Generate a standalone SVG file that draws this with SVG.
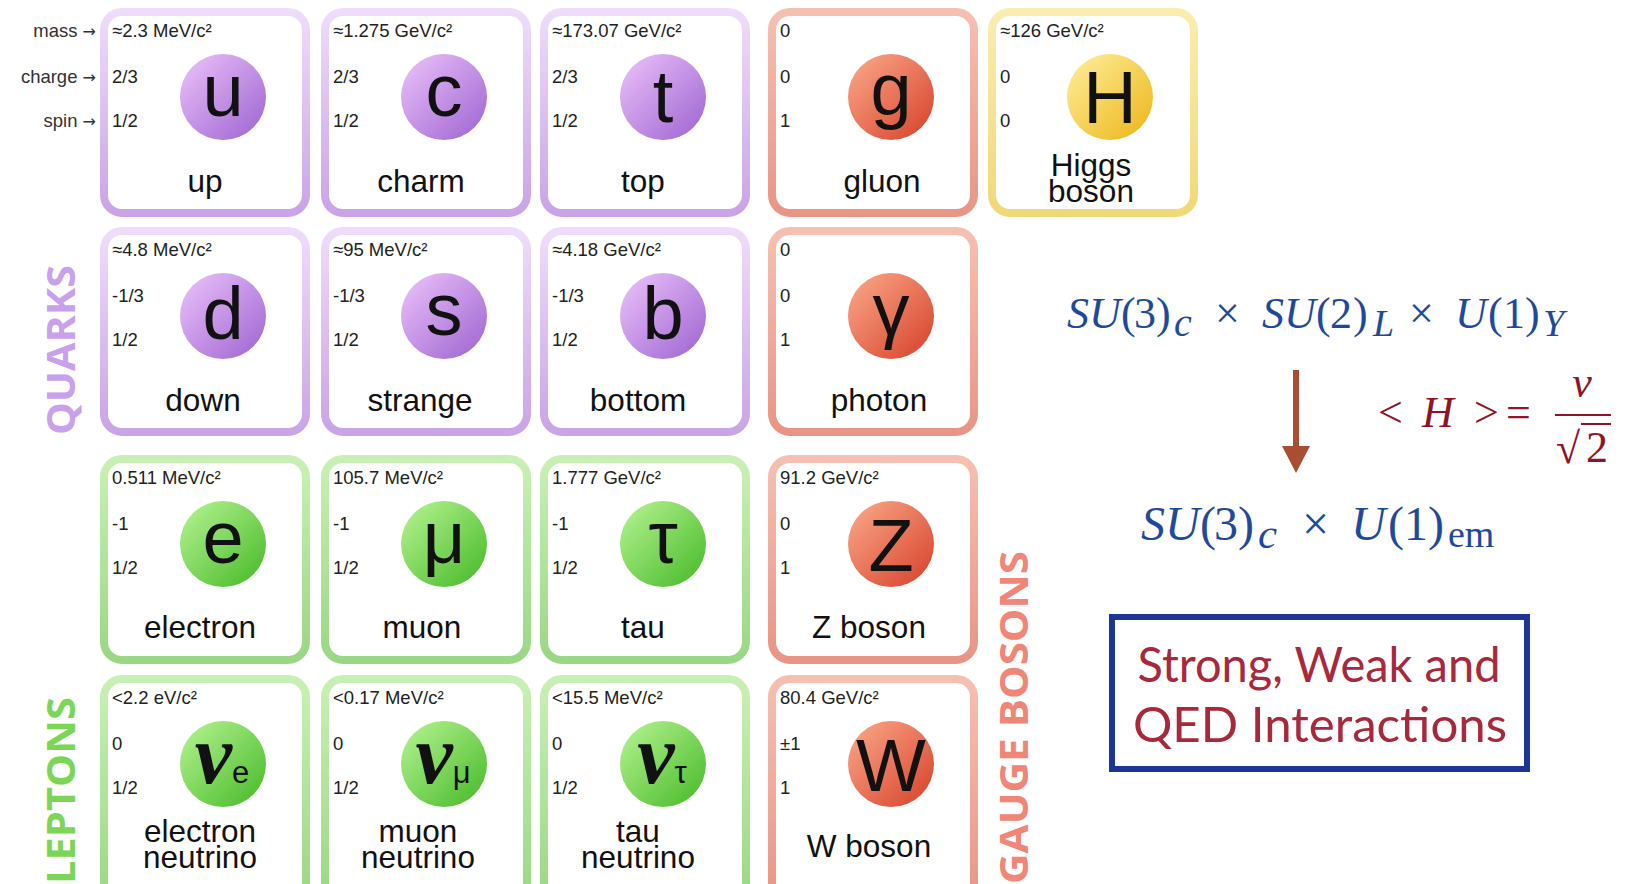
<svg xmlns="http://www.w3.org/2000/svg" width="1630" height="884" viewBox="0 0 1630 884">
<defs>
  <linearGradient id="cq" x1="0" y1="0" x2="1" y2="1"><stop offset="0" stop-color="#edc4fb"/><stop offset="1" stop-color="#9c62d0"/></linearGradient>
  <linearGradient id="cl" x1="0" y1="0" x2="1" y2="1"><stop offset="0" stop-color="#b8f594"/><stop offset="1" stop-color="#45b826"/></linearGradient>
  <linearGradient id="cg" x1="0" y1="0" x2="1" y2="1"><stop offset="0" stop-color="#fbab8c"/><stop offset="1" stop-color="#d63f28"/></linearGradient>
  <linearGradient id="ch" x1="0" y1="0" x2="1" y2="1"><stop offset="0" stop-color="#fff0a0"/><stop offset="1" stop-color="#ecb414"/></linearGradient>
  <linearGradient id="bq" x1="0" y1="0" x2="0" y2="1"><stop offset="0" stop-color="#efdcfa"/><stop offset="1" stop-color="#c9a4e6"/></linearGradient>
  <linearGradient id="bl" x1="0" y1="0" x2="0" y2="1"><stop offset="0" stop-color="#c9f0b4"/><stop offset="1" stop-color="#9ad784"/></linearGradient>
  <linearGradient id="bg" x1="0" y1="0" x2="0" y2="1"><stop offset="0" stop-color="#f5c0b2"/><stop offset="1" stop-color="#e99585"/></linearGradient>
  <linearGradient id="bh" x1="0" y1="0" x2="0" y2="1"><stop offset="0" stop-color="#f9edb0"/><stop offset="1" stop-color="#f1d878"/></linearGradient>
  <marker id="ah" viewBox="0 0 27 28" refX="0" refY="14" markerUnits="userSpaceOnUse" markerWidth="27" markerHeight="28" orient="auto">
    <path d="M0,0 L27,14 L0,28 Z" fill="#a84e32"/>
  </marker>
</defs>
<style>
  .bq{fill:#fff;stroke:url(#bq);stroke-width:8}
  .bl{fill:#fff;stroke:url(#bl);stroke-width:8}
  .bg{fill:#fff;stroke:url(#bg);stroke-width:8}
  .bh{fill:#fff;stroke:url(#bh);stroke-width:8}
  .val{font-family:"Liberation Sans",Arial,sans-serif;font-size:18.5px;fill:#222}
  .leg{font-family:"Liberation Sans",Arial,sans-serif;font-size:18.5px;fill:#333;text-anchor:end}
  .arr{font-family:"DejaVu Sans",sans-serif;font-size:16px}
  .name{font-family:"Liberation Sans",Arial,sans-serif;font-size:31.5px;fill:#111;text-anchor:middle}
  .sym{font-family:"Liberation Sans",Arial,sans-serif;font-size:74px;fill:#111;text-anchor:middle}
  .nu{font-family:"Liberation Serif","Times New Roman",serif;font-style:italic;font-weight:700;font-size:84px;fill:#111;text-anchor:middle}
  .nus{font-family:"Liberation Sans",Arial,sans-serif;font-style:normal;font-weight:400;font-size:31px}
  .cat{font-family:"Open Sans","Liberation Sans",sans-serif;font-weight:700;font-size:39px}
  .fb{font-family:"Liberation Serif","Times New Roman",serif;fill:#1f4a9c}
  .fr{font-family:"Liberation Serif","Times New Roman",serif;fill:#8e1528}
  .it{font-style:italic}
  .box2{font-family:"Lato","Open Sans",sans-serif;font-size:48px;fill:#a8283c;text-anchor:middle}
</style>

<g id="legend">
  <text class="leg" x="96" y="37">mass <tspan class="arr">→</tspan></text>
  <text class="leg" x="96" y="83">charge <tspan class="arr">→</tspan></text>
  <text class="leg" x="96" y="127">spin <tspan class="arr">→</tspan></text>
</g>

<!-- Row 1 -->
<g id="up"><rect class="bq" x="104" y="12" width="202" height="201" rx="18"/><circle cx="223" cy="97" r="43" fill="url(#cq)"/>
  <text class="val" x="112" y="37">≈2.3 MeV/c²</text><text class="val" x="112" y="83">2/3</text><text class="val" x="112" y="127">1/2</text>
  <text class="sym" x="223" y="116">u</text><text class="name" x="205" y="192">up</text></g>
<g id="charm"><rect class="bq" x="325" y="12" width="202" height="201" rx="18"/><circle cx="444" cy="97" r="43" fill="url(#cq)"/>
  <text class="val" x="333" y="37">≈1.275 GeV/c²</text><text class="val" x="333" y="83">2/3</text><text class="val" x="333" y="127">1/2</text>
  <text class="sym" x="444" y="116">c</text><text class="name" x="421" y="192">charm</text></g>
<g id="top"><rect class="bq" x="544" y="12" width="202" height="201" rx="18"/><circle cx="663" cy="97" r="43" fill="url(#cq)"/>
  <text class="val" x="552" y="37">≈173.07 GeV/c²</text><text class="val" x="552" y="83">2/3</text><text class="val" x="552" y="127">1/2</text>
  <text class="sym" x="663" y="122">t</text><text class="name" x="643" y="192">top</text></g>
<g id="gluon"><rect class="bg" x="772" y="12" width="202" height="201" rx="18"/><circle cx="891" cy="97" r="43" fill="url(#cg)"/>
  <text class="val" x="780" y="37">0</text><text class="val" x="780" y="83">0</text><text class="val" x="780" y="127">1</text>
  <text class="sym" x="891" y="115">g</text><text class="name" x="882" y="192">gluon</text></g>
<g id="higgs"><rect class="bh" x="992" y="12" width="202" height="201" rx="18"/><circle cx="1110" cy="97" r="43" fill="url(#ch)"/>
  <text class="val" x="1000" y="37">≈126 GeV/c²</text><text class="val" x="1000" y="83">0</text><text class="val" x="1000" y="127">0</text>
  <text class="sym" x="1110" y="123">H</text><text class="name" x="1091" y="176">Higgs</text><text class="name" x="1091" y="202">boson</text></g>

<!-- Row 2 -->
<g id="down"><rect class="bq" x="104" y="231" width="202" height="201" rx="18"/><circle cx="223" cy="316" r="43" fill="url(#cq)"/>
  <text class="val" x="112" y="256">≈4.8 MeV/c²</text><text class="val" x="112" y="302">-1/3</text><text class="val" x="112" y="346">1/2</text>
  <text class="sym" x="223" y="339">d</text><text class="name" x="203" y="411">down</text></g>
<g id="strange"><rect class="bq" x="325" y="231" width="202" height="201" rx="18"/><circle cx="444" cy="316" r="43" fill="url(#cq)"/>
  <text class="val" x="333" y="256">≈95 MeV/c²</text><text class="val" x="333" y="302">-1/3</text><text class="val" x="333" y="346">1/2</text>
  <text class="sym" x="444" y="335">s</text><text class="name" x="420" y="411">strange</text></g>
<g id="bottom"><rect class="bq" x="544" y="231" width="202" height="201" rx="18"/><circle cx="663" cy="316" r="43" fill="url(#cq)"/>
  <text class="val" x="552" y="256">≈4.18 GeV/c²</text><text class="val" x="552" y="302">-1/3</text><text class="val" x="552" y="346">1/2</text>
  <text class="sym" x="663" y="339">b</text><text class="name" x="638" y="411">bottom</text></g>
<g id="photon"><rect class="bg" x="772" y="231" width="202" height="201" rx="18"/><circle cx="891" cy="316" r="43" fill="url(#cg)"/>
  <text class="val" x="780" y="256">0</text><text class="val" x="780" y="302">0</text><text class="val" x="780" y="346">1</text>
  <text class="sym" x="891" y="335">γ</text><text class="name" x="879" y="411">photon</text></g>

<!-- Row 3 -->
<g id="electron"><rect class="bl" x="104" y="459" width="202" height="201" rx="18"/><circle cx="223" cy="544" r="43" fill="url(#cl)"/>
  <text class="val" x="112" y="484">0.511 MeV/c²</text><text class="val" x="112" y="530">-1</text><text class="val" x="112" y="574">1/2</text>
  <text class="sym" x="223" y="563">e</text><text class="name" x="200" y="638">electron</text></g>
<g id="muon"><rect class="bl" x="325" y="459" width="202" height="201" rx="18"/><circle cx="444" cy="544" r="43" fill="url(#cl)"/>
  <text class="val" x="333" y="484">105.7 MeV/c²</text><text class="val" x="333" y="530">-1</text><text class="val" x="333" y="574">1/2</text>
  <text class="sym" x="444" y="563">μ</text><text class="name" x="422" y="638">muon</text></g>
<g id="tau"><rect class="bl" x="544" y="459" width="202" height="201" rx="18"/><circle cx="663" cy="544" r="43" fill="url(#cl)"/>
  <text class="val" x="552" y="484">1.777 GeV/c²</text><text class="val" x="552" y="530">-1</text><text class="val" x="552" y="574">1/2</text>
  <text class="sym" x="663" y="563">τ</text><text class="name" x="643" y="638">tau</text></g>
<g id="zboson"><rect class="bg" x="772" y="459" width="202" height="201" rx="18"/><circle cx="891" cy="544" r="43" fill="url(#cg)"/>
  <text class="val" x="780" y="484">91.2 GeV/c²</text><text class="val" x="780" y="530">0</text><text class="val" x="780" y="574">1</text>
  <text class="sym" x="891" y="571">Z</text><text class="name" x="869" y="638">Z boson</text></g>

<!-- Row 4 -->
<g id="electron-neutrino"><rect class="bl" x="104" y="679" width="202" height="222" rx="18"/><circle cx="223" cy="764" r="43" fill="url(#cl)"/>
  <text class="val" x="112" y="704">&lt;2.2 eV/c²</text><text class="val" x="112" y="750">0</text><text class="val" x="112" y="794">1/2</text>
  <text class="nu" x="222" y="783">ν<tspan class="nus">e</tspan></text><text class="name" x="200" y="842">electron</text><text class="name" x="200" y="868">neutrino</text></g>
<g id="muon-neutrino"><rect class="bl" x="325" y="679" width="202" height="222" rx="18"/><circle cx="444" cy="764" r="43" fill="url(#cl)"/>
  <text class="val" x="333" y="704">&lt;0.17 MeV/c²</text><text class="val" x="333" y="750">0</text><text class="val" x="333" y="794">1/2</text>
  <text class="nu" x="443" y="783">ν<tspan class="nus">μ</tspan></text><text class="name" x="418" y="842">muon</text><text class="name" x="418" y="868">neutrino</text></g>
<g id="tau-neutrino"><rect class="bl" x="544" y="679" width="202" height="222" rx="18"/><circle cx="663" cy="764" r="43" fill="url(#cl)"/>
  <text class="val" x="552" y="704">&lt;15.5 MeV/c²</text><text class="val" x="552" y="750">0</text><text class="val" x="552" y="794">1/2</text>
  <text class="nu" x="662" y="783">ν<tspan class="nus">τ</tspan></text><text class="name" x="638" y="842">tau</text><text class="name" x="638" y="868">neutrino</text></g>
<g id="wboson"><rect class="bg" x="772" y="679" width="202" height="222" rx="18"/><circle cx="891" cy="764" r="43" fill="url(#cg)"/>
  <text class="val" x="780" y="704">80.4 GeV/c²</text><text class="val" x="780" y="750">±1</text><text class="val" x="780" y="794">1</text>
  <text class="sym" x="891" y="791">W</text><text class="name" x="869" y="857">W boson</text></g>

<!-- Category labels -->
<g id="categories">
  <text class="cat" fill="#c9a0ec" transform="translate(75,435) rotate(-90)" textLength="170" lengthAdjust="spacingAndGlyphs">QUARKS</text>
  <text class="cat" fill="#7cd656" transform="translate(75,884) rotate(-90)" textLength="187" lengthAdjust="spacingAndGlyphs">LEPTONS</text>
  <text class="cat" fill="#f08678" transform="translate(1028,884) rotate(-90)" textLength="333" lengthAdjust="spacingAndGlyphs">GAUGE BOSONS</text>
</g>

<!-- Formulas -->
<g id="formula-top" class="fb" font-size="44">
  <text y="328"><tspan class="it" x="1067">S</tspan><tspan class="it" x="1089">U</tspan><tspan x="1121">(</tspan><tspan x="1134">3</tspan><tspan x="1156">)</tspan><tspan class="it" x="1174" y="336" font-size="40">c</tspan><tspan x="1215" y="328">×</tspan><tspan class="it" x="1262">S</tspan><tspan class="it" x="1284">U</tspan><tspan x="1316">(</tspan><tspan x="1330">2</tspan><tspan x="1353">)</tspan><tspan class="it" x="1373" y="336" font-size="38">L</tspan><tspan x="1409" y="328">×</tspan><tspan class="it" x="1455">U</tspan><tspan x="1488">(</tspan><tspan x="1503">1</tspan><tspan x="1525">)</tspan><tspan class="it" x="1543" y="336" font-size="38">Y</tspan></text>
</g>
<g id="formula-bottom" class="fb" font-size="48">
  <text y="540"><tspan class="it" x="1141">S</tspan><tspan class="it" x="1165">U</tspan><tspan x="1200">(</tspan><tspan x="1214">3</tspan><tspan x="1238">)</tspan><tspan class="it" x="1258" y="548" font-size="43">c</tspan><tspan x="1302" y="540">×</tspan><tspan class="it" x="1351">U</tspan><tspan x="1388">(</tspan><tspan x="1404">1</tspan><tspan x="1428">)</tspan><tspan x="1448" y="547" font-size="38">em</tspan></text>
</g>
<g id="vev" class="fr" font-size="44">
  <text y="427"><tspan x="1378">&lt;</tspan><tspan class="it" x="1422">H</tspan><tspan x="1474">&gt;</tspan><tspan x="1506">=</tspan></text>
  <text class="it" x="1582" y="397" text-anchor="middle">v</text>
  <line x1="1555" y1="415" x2="1611" y2="415" stroke="#8e1528" stroke-width="2"/>
  <text x="1556" y="463">√</text>
  <line x1="1581" y1="424" x2="1611" y2="424" stroke="#8e1528" stroke-width="2"/>
  <text x="1586" y="462">2</text>
</g>

<g id="connectors">
  <line x1="1296" y1="370" x2="1296" y2="446" stroke="#a84e32" stroke-width="6" marker-end="url(#ah)"/>
</g>

<g id="interactions">
  <rect x="1112" y="617" width="415" height="152" fill="#fff" stroke="#1d3594" stroke-width="6"/>
  <text class="box2" x="1319" y="682" textLength="363" lengthAdjust="spacingAndGlyphs">Strong, Weak and</text>
  <text class="box2" x="1320" y="742" textLength="374" lengthAdjust="spacingAndGlyphs">QED Interactions</text>
</g>
</svg>
